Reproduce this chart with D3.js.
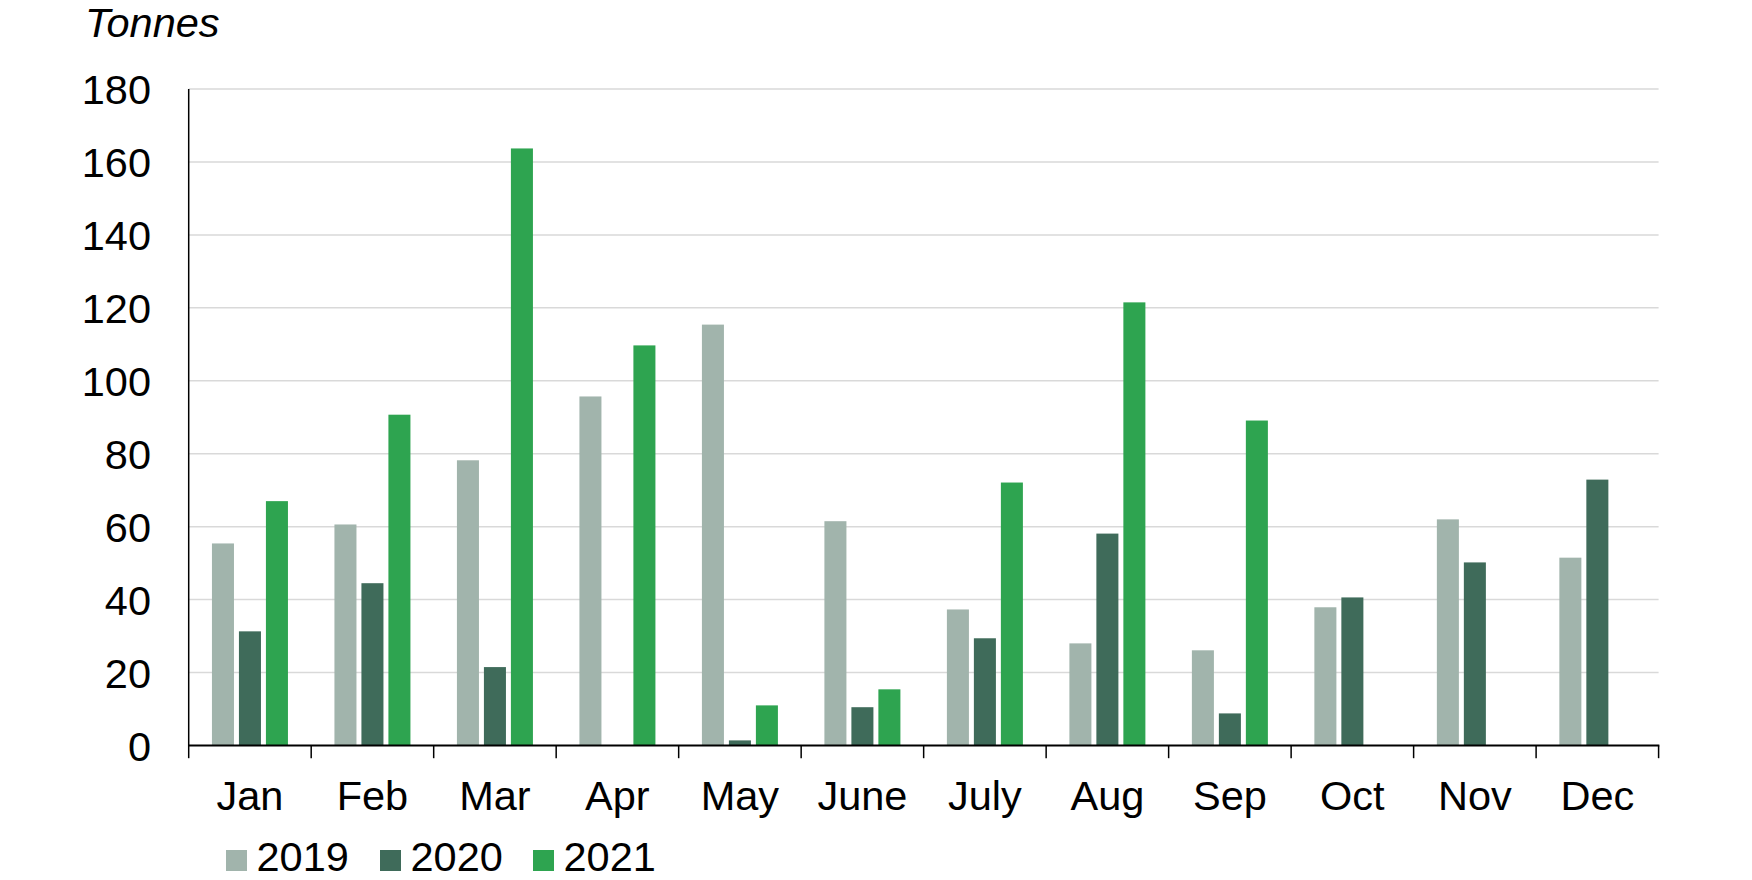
<!DOCTYPE html>
<html>
<head>
<meta charset="utf-8">
<script src="https://cdn.jsdelivr.net/npm/d3@7"></script>
<style>
  html, body { margin: 0; padding: 0; background: #ffffff; }
  svg { display: block; font-family: "Liberation Sans", Arial, sans-serif; }
</style>
</head>
<body>
<svg id="chart" width="1752" height="880"></svg>
<script>
const months = ["Jan", "Feb", "Mar", "Apr", "May", "June", "July", "Aug", "Sep", "Oct", "Nov", "Dec"];
const seriesNames = ["2019", "2020", "2021"];
const values2019 = [55.4, 60.6, 78.2, 95.7, 115.4, 61.5, 37.3, 28.0, 26.1, 37.9, 62.0, 51.5];
const values2020 = [31.3, 44.5, 21.5, null, 1.4, 10.5, 29.4, 58.1, 8.8, 40.6, 50.2, 72.9];
const values2021 = [67.0, 90.7, 163.7, 109.7, 11.0, 15.4, 72.1, 121.5, 89.1, null, null, null];
const yTicks = [0, 20, 40, 60, 80, 100, 120, 140, 160, 180];
const colors = ["#a1b4ac", "#3f6b5a", "#2ea450"];
const unitLabel = "Tonnes";

(function () {
const seriesValues = [values2019, values2020, values2021];
const fontSize = 41.5;

const svg = d3.select("#chart");
const plotLeft = 188.7, plotRight = 1658.6, plotTop = 89, plotBottom = 745.5;

const x = d3.scaleBand().domain(months).range([plotLeft, plotRight]).paddingInner(0).paddingOuter(0);
const y = d3.scaleLinear().domain([0, 180]).range([plotBottom, plotTop]);
const inner = d3.scaleBand().domain(seriesNames).range([-38, 38]).paddingInner(0.184).paddingOuter(0);

// gridlines
svg.append("g")
  .selectAll("line")
  .data(yTicks.filter(d => d > 0))
  .join("line")
  .attr("x1", plotLeft).attr("x2", plotRight)
  .attr("y1", d => y(d)).attr("y2", d => y(d))
  .attr("stroke", "#d9d9d9").attr("stroke-width", 1.5);

// bars
const rows = [];
months.forEach((m, i) => {
  seriesNames.forEach((s, j) => {
    const v = seriesValues[j][i];
    if (v !== null && v !== undefined) rows.push({ month: m, series: s, value: v, idx: j });
  });
});
svg.append("g")
  .selectAll("rect")
  .data(rows)
  .join("rect")
  .attr("x", d => x(d.month) + x.bandwidth() / 2 + inner(d.series))
  .attr("width", inner.bandwidth())
  .attr("y", d => y(d.value))
  .attr("height", d => y(0) - y(d.value))
  .attr("fill", d => colors[d.idx]);

// y axis
const yAxis = d3.axisLeft(y).tickValues(yTicks).tickSize(0).tickPadding(37.7);
const gy = svg.append("g").attr("transform", `translate(${plotLeft},0)`).call(yAxis);
gy.select(".domain").attr("stroke", "#000").attr("stroke-width", 1.5).attr("d", `M0,${plotBottom}V${plotTop}`);
gy.selectAll("text").attr("font-size", fontSize).attr("fill", "#000")
  .attr("font-family", "'Liberation Sans', Arial, sans-serif").attr("dy", "0.36em");

// x axis: ticks at band boundaries
const gx = svg.append("g");
gx.append("line")
  .attr("x1", plotLeft - 0.75).attr("x2", plotRight + 0.75)
  .attr("y1", plotBottom).attr("y2", plotBottom)
  .attr("stroke", "#000").attr("stroke-width", 1.8);
const boundaries = months.map(m => x(m)).concat([plotRight]);
gx.selectAll("line.tick")
  .data(boundaries)
  .join("line")
  .attr("class", "tick")
  .attr("x1", d => d).attr("x2", d => d)
  .attr("y1", plotBottom).attr("y2", plotBottom + 12.7)
  .attr("stroke", "#000").attr("stroke-width", 1.5);
gx.selectAll("text")
  .data(months)
  .join("text")
  .attr("x", d => x(d) + x.bandwidth() / 2)
  .attr("y", 809.5)
  .attr("text-anchor", "middle")
  .attr("font-size", fontSize)
  .attr("fill", "#000")
  .text(d => d);

// unit label
svg.append("text")
  .attr("x", 85).attr("y", 37)
  .attr("font-size", fontSize)
  .attr("font-style", "italic")
  .attr("fill", "#000")
  .text(unitLabel);

// legend
const legendX = [226, 380, 533];
const lg = svg.append("g");
seriesNames.forEach((s, j) => {
  lg.append("rect")
    .attr("x", legendX[j]).attr("y", 850)
    .attr("width", 21).attr("height", 21)
    .attr("fill", colors[j]);
  lg.append("text")
    .attr("x", legendX[j] + 30.5).attr("y", 871)
    .attr("font-size", fontSize)
    .attr("fill", "#000")
    .text(s);
});
})();
</script>
</body>
</html>
